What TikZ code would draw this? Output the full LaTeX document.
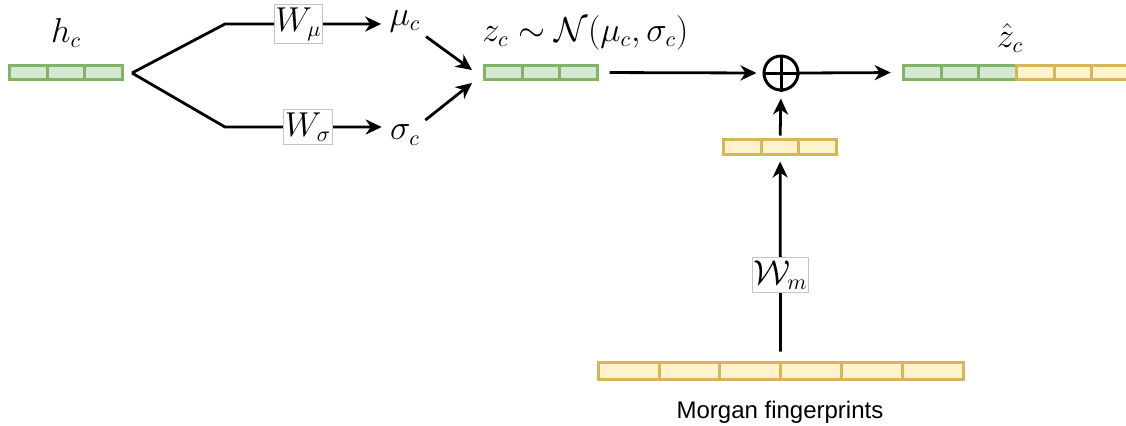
\documentclass[tikz,border=0pt]{standalone}
\usepackage{amsmath}
\usepackage{fontspec}
\newfontfamily\captionfont{Liberation Sans}
\usetikzlibrary{arrows.meta,positioning}
\definecolor{gfill}{HTML}{D5E8D4}
\definecolor{gline}{HTML}{82B366}
\definecolor{yfill}{HTML}{FFF2CC}
\definecolor{yline}{HTML}{D6B656}
\definecolor{boxline}{HTML}{C4C4C4}

\tikzset{
    gcell/.style={draw=gline, fill=gfill, line width=1.5pt, minimum width=18.8pt,
        minimum height=7pt, inner sep=0pt, outer sep=0pt},
    ycell/.style={draw=yline, fill=yfill, line width=1.5pt, minimum width=18.8pt,
        minimum height=7pt, inner sep=0pt, outer sep=0pt},
    conn/.style={line width=1.4pt, -{Stealth[length=8pt,width=7.5pt,inset=2.5pt]}},
    mathlbl/.style={font=\fontsize{16}{19}\selectfont, inner sep=1pt},
    wbox/.style={draw=boxline, fill=white, line width=0.5pt, inner xsep=0.5pt,
        inner ysep=1.5pt, font=\fontsize{16}{19}\selectfont},
}

\begin{document}
\begin{tikzpicture}[x=0.5pt,y=-0.5pt]
    \useasboundingbox (0,0) rectangle (1126,425);
    % vectors
    \foreach \i/\x in {1/28.5,2/66.1,3/103.7}
        \node[gcell] (hc\i) at (\x,72.5) {};
    \foreach \i/\x in {1/503.5,2/541.1,3/578.7}
        \node[gcell] (zc\i) at (\x,72.5) {};
    \foreach \i/\x in {1/922.5,2/960.1,3/997.7}
        \node[gcell] (zh\i) at (\x,72.5) {};
    \foreach \i/\x in {4/1035.3,5/1072.9,6/1110.5}
        \node[ycell] (zh\i) at (\x,72.5) {};
    \foreach \i/\x in {1/742.5,2/780.1,3/817.7}
        \node[ycell, minimum height=7.5pt] (sm\i) at (\x,147) {};
    \foreach \i/\x in {1/628.6,2/689.4,3/750.2,4/811.0,5/871.8,6/932.6}
        \node[ycell, minimum width=30.4pt, minimum height=8.5pt] (fp\i) at (\x,371) {};

    % labels
    \node[mathlbl] (hlab) at (66,33) {$h_c$};
    \node[mathlbl] (mu) at (405,21) {$\mu_c$};
    \node[mathlbl] (sig) at (405,135) {$\sigma_c$};
    \node[mathlbl, anchor=west] (zlab) at (480,33) {$z_c \sim \mathcal{N}(\mu_c,\sigma_c)$};
    \node[mathlbl] (zhlab) at (1010,38) {$\hat{z}_c$};
    \node[font=\captionfont\fontsize{12}{14}\selectfont] (fplab) at (780,412) {Morgan fingerprints};

    % concatenation
    \node[circle, draw, line width=1.5pt, minimum size=17pt, inner sep=0pt] (sum) at (781,73) {};
    \draw[line width=1.5pt] (sum.north) -- (sum.south);
    \draw[line width=1.5pt] (sum.west) -- (sum.east);

    % encoder branches
    \coordinate (split) at (132,73);
    \coordinate (upbend) at (225,24);
    \coordinate (lowbend) at (225,127);
    \coordinate (muin) at (472,70);
    \coordinate (sigin) at (472,83);
    \draw[conn] (split) -- (upbend) -- node[wbox, pos=0.47] {$W_\mu$} ([xshift=-3pt]upbend -| mu.west);
    \draw[conn] (split) -- (lowbend) -- node[wbox, pos=0.53] {$W_\sigma$} ([xshift=-3pt]lowbend -| sig.west);
    \draw[conn, shorten <=2pt] (mu.south east) -- (muin);
    \draw[conn, shorten <=2pt] (sig.north east) -- (sigin);

    \draw[conn, shorten <=6pt, shorten >=3pt] (zc3.east) -- (sum.west);
    \draw[conn, shorten >=6.5pt] (sum.east) -- (zh1.west);
    \draw[conn, shorten <=2pt, shorten >=3.5pt] (sm2.north) -- (sum.south);
    \draw[conn, shorten <=5.5pt, shorten >=3.5pt] (fp3.north east) --
        node[wbox, pos=0.42] {$\mathcal{W}_m$} (sm2.south);
\end{tikzpicture}
\end{document}
